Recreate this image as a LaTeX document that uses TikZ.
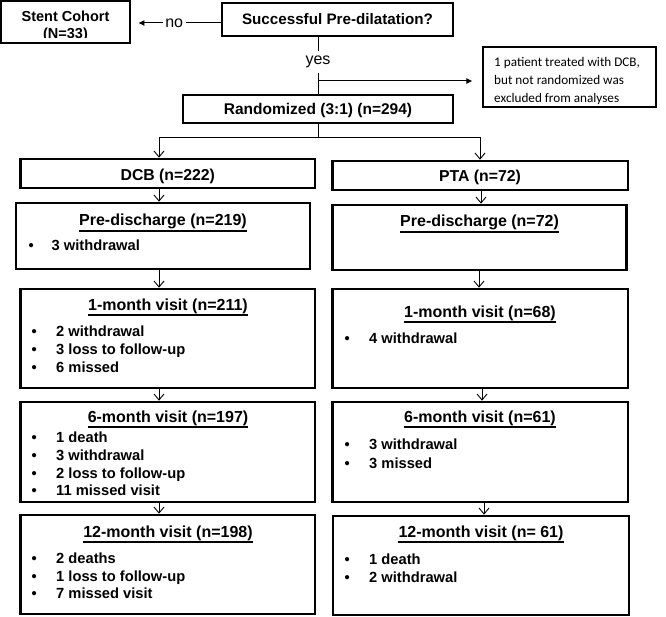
\documentclass[tikz,border=0pt]{standalone}
\usepackage{fontspec}
\setmainfont{Liberation Sans}
\newfontfamily\calfont{Carlito}
\usetikzlibrary{arrows.meta,fit}
\newcommand\bulA{\makebox[24.5pt][l]{•}}
\newcommand\bulB{\makebox[23pt][l]{•}}
\begin{document}
\begin{tikzpicture}[x=1pt,y=-1pt,
  box/.style={draw,line width=2.6pt,inner sep=0pt,rectangle},
  thinbox/.style={draw,line width=1.1pt,inner sep=0pt,rectangle},
  head/.style={anchor=base,inner sep=0pt,font=\fontsize{15.5}{18}\selectfont\bfseries},
  ttl/.style={anchor=base,inner sep=0pt,font=\fontsize{16}{19}\selectfont\bfseries,
    append after command={([yshift=-1.4pt]\tikzlastnode.south west) edge[line width=1.2pt] ([yshift=-1.4pt]\tikzlastnode.south east)}},
  bl/.style={anchor=base west,inner sep=0pt,font=\fontsize{14.7}{18}\selectfont\bfseries},
  ex/.style={anchor=base west,inner sep=0pt,font=\fontsize{13.2}{16}\selectfont\calfont},
  lbl/.style={fill=white,inner xsep=2.5pt,inner ysep=5pt,font=\fontsize{16}{19}\selectfont},
  ln/.style={line width=0.9pt},
  arr/.style={ln,-{Straight Barb[length=6pt,width=10pt]}},
  farr/.style={line width=1pt,-{Latex[length=6pt,width=6pt]}}]
\useasboundingbox (0,0) rectangle (666,617);

% top row
\node[head,font=\fontsize{14.5}{17}\selectfont\bfseries] (stentt) at (65.5,22) {Stent Cohort};
\begin{scope}
\clip (0,0) rectangle (131,37.5);
\node[head,font=\fontsize{14.5}{17}\selectfont\bfseries] (stentn) at (65.5,39) {(N=33)};
\end{scope}
\node[box,fit={(1,1)(130,43)}] (stent) {};

\node[box,fit={(222,3)(453,36)}] (succ) {};
\node[head,font=\fontsize{15.2}{18}\selectfont\bfseries] (succt) at (337.5,25) {Successful Pre-dilatation?};

\node[thinbox,fit={(483,47)(656,107)}] (excl) {};
\node[ex] (ex1) at (494,67) {1 patient treated with DCB,};
\node[ex] (ex2) at (494,85) {but not randomized was};
\node[ex] (ex3) at (494,103) {excluded from analyses};

\node[box,fit={(183,95)(453,123)}] (rand) {};
\node[head] (randt) at (318,115) {Randomized (3:1) (n=294)};

\draw[farr,shorten >=7pt] (succ.west |- 0,23) -- node[lbl,pos=0.52] (nolbl) {no} (stent.east |- 0,23);
\draw[ln] (rand.north |- succ.south) -- node[lbl,pos=0.44] (yeslbl) {yes} (rand.north);
\coordinate (ybr) at (318,81);
\draw[farr,shorten >=10pt] (ybr) -- (excl.west |- ybr);

% branch
\coordinate (br) at (318,137);
\coordinate (brl) at (159,137);
\coordinate (brr) at (480,137);

\node[box,fit={(20.6,159)(315,188)}] (dcb) {};
\node[head,font=\fontsize{15.8}{18}\selectfont\bfseries] (dcbt) at (167.8,180.5) {DCB (n=222)};
\node[box,fit={(332.6,161)(628,190)}] (pta) {};
\node[head,font=\fontsize{15.8}{18}\selectfont\bfseries] (ptat) at (480,181.5) {PTA (n=72)};

\draw[ln] (rand.south) -- (br);
\draw[arr] (br) -- (brl) -- (dcb.north -| brl);
\draw[arr] (br) -- (brr) -- (pta.north -| brr);

% pre-discharge
\node[box,fit={(16,203)(310,269)}] (dpre) {};
\node[ttl] (dpret) at (163,226) {Pre-discharge (n=219)};
\node[bl] (dpre1) at (28.5,251) {\bulB 3 withdrawal};
\node[box,fit={(332.6,205)(626.6,270)}] (ppre) {};
\node[ttl] (ppret) at (479.6,227) {Pre-discharge (n=72)};

% 1-month
\node[box,fit={(20.6,289)(315,388)}] (d1) {};
\node[ttl] (d1t) at (168,310) {1-month visit (n=211)};
\node[bl] (d1a) at (31.5,336) {\bulA 2 withdrawal};
\node[bl] (d1b) at (31.5,354) {\bulA 3 loss to follow-up};
\node[bl] (d1c) at (31.5,372) {\bulA 6 missed};
\node[box,fit={(332.6,289)(628,388)}] (p1) {};
\node[ttl] (p1t) at (480,317) {1-month visit (n=68)};
\node[bl] (p1a) at (344.5,343) {\bulA 4 withdrawal};

% 6-month
\node[box,fit={(20.6,402)(315,502)}] (d6) {};
\node[ttl] (d6t) at (168,422) {6-month visit (n=197)};
\node[bl] (d6a) at (31.5,442) {\bulA 1 death};
\node[bl] (d6b) at (31.5,460) {\bulA 3 withdrawal};
\node[bl] (d6c) at (31.5,478) {\bulA 2 loss to follow-up};
\node[bl] (d6d) at (31.5,495) {\bulA 11 missed visit};
\node[box,fit={(332.6,402)(628,502)}] (p6) {};
\node[ttl] (p6t) at (480,422) {6-month visit (n=61)};
\node[bl] (p6a) at (344.5,449) {\bulA 3 withdrawal};
\node[bl] (p6b) at (344.5,468) {\bulA 3 missed};

% 12-month
\node[box,fit={(20.6,515)(315,614)}] (d12) {};
\node[ttl] (d12t) at (168,537) {12-month visit (n=198)};
\node[bl] (d12a) at (31.5,563) {\bulA 2 deaths};
\node[bl] (d12b) at (31.5,581) {\bulA 1 loss to follow-up};
\node[bl] (d12c) at (31.5,598) {\bulA 7 missed visit};
\node[box,fit={(333,516)(629,615)}] (p12) {};
\node[ttl] (p12t) at (481,537) {12-month visit (n= 61)};
\node[bl] (p12a) at (344.5,564) {\bulA 1 death};
\node[bl] (p12b) at (344.5,582) {\bulA 2 withdrawal};

% vertical arrows
\draw[arr] (dcb.south -| 159,0) -- (dpre.north -| 159,0);
\draw[arr] (dpre.south -| 159,0) -- (d1.north -| 159,0);
\draw[arr] (d1.south -| 159,0) -- (d6.north -| 159,0);
\draw[arr] (d6.south -| 159,0) -- (d12.north -| 159,0);
\draw[arr] (pta.south -| 481,0) -- (ppre.north -| 481,0);
\draw[arr] (ppre.south -| 479,0) -- (p1.north -| 479,0);
\draw[arr] (p1.south -| 482,0) -- (p6.north -| 482,0);
\draw[arr] (p6.south -| 484,0) -- (p12.north -| 484,0);
\end{tikzpicture}
\end{document}
